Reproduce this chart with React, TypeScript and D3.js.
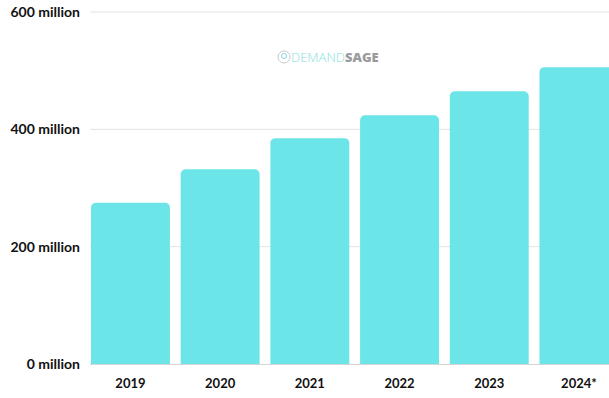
import React from "react";
import * as d3 from "d3";

const categories = ["2019", "2020", "2021", "2022", "2023", "2024*"];
const values = [275, 332, 385, 424, 465, 506];
const yTicks = [0, 200, 400, 600];

const W = 609;
const H = 398;

export default function App() {
  const x = d3
    .scaleBand<string>()
    .domain(categories)
    .range([85.6, 623.8])
    .paddingInner(0.12)
    .paddingOuter(0.06);
  const y = d3.scaleLinear().domain([0, 600]).range([364, 12]);
  const r = 5;

  const barPath = (x0: number, y0: number, w: number, h: number) => {
    const path = d3.path();
    path.moveTo(x0, y0 + h);
    path.lineTo(x0, y0 + r);
    path.arcTo(x0, y0, x0 + r, y0, r);
    path.lineTo(x0 + w - r, y0);
    path.arcTo(x0 + w, y0, x0 + w, y0 + r, r);
    path.lineTo(x0 + w, y0 + h);
    path.closePath();
    return path.toString();
  };

  return (
    <svg
      width={W}
      height={H}
      style={{ position: "fixed", left: 0, top: 0, background: "#fff" }}
      fontFamily="Lato, 'Open Sans', sans-serif"
    >
      {yTicks.map((t) => (
        <g key={t}>
          {t !== 0 && (
            <line x1={90} x2={W} y1={y(t)} y2={y(t)} stroke="#e3e3e3" strokeWidth={1} />
          )}
          <text
            x={80}
            y={y(t)}
            dy="0.35em"
            textAnchor="end"
            fontSize={14}
            fontWeight={700}
            fill="#111"
          >
            {`${t} million`}
          </text>
        </g>
      ))}
      {/* watermark */}
      <g transform="translate(278,57)">
        <circle cx={6} cy={0} r={6} fill="none" stroke="#c8c8c8" strokeWidth={1} />
        <circle cx={6} cy={-1} r={2.5} fill="none" stroke="#7fd9d8" strokeWidth={1} />
        <text x={13} y={0} dy="0.36em" fontSize={13} fontFamily="'Open Sans', sans-serif">
          <tspan fill="#86e0df" fontWeight={300}>DEMAND</tspan>
          <tspan fill="#9a9a9a" fontWeight={800}>SAGE</tspan>
        </text>
      </g>
      {categories.map((c, i) => {
        const x0 = x(c)!;
        const w = x.bandwidth();
        const y0 = y(values[i]);
        return (
          <path key={c} d={barPath(x0, y0, w, y(0) - y0)} fill="#6ce5e8" />
        );
      })}
      <line x1={90} x2={W} y1={y(0) + 0.5} y2={y(0) + 0.5} stroke="#d6d6d6" strokeWidth={1} />
      {categories.map((c) => (
        <text
          key={c}
          x={x(c)! + x.bandwidth() / 2}
          y={388}
          textAnchor="middle"
          fontSize={13}
          fontWeight={700}
          fill="#111"
        >
          {c}
        </text>
      ))}
    </svg>
  );
}
